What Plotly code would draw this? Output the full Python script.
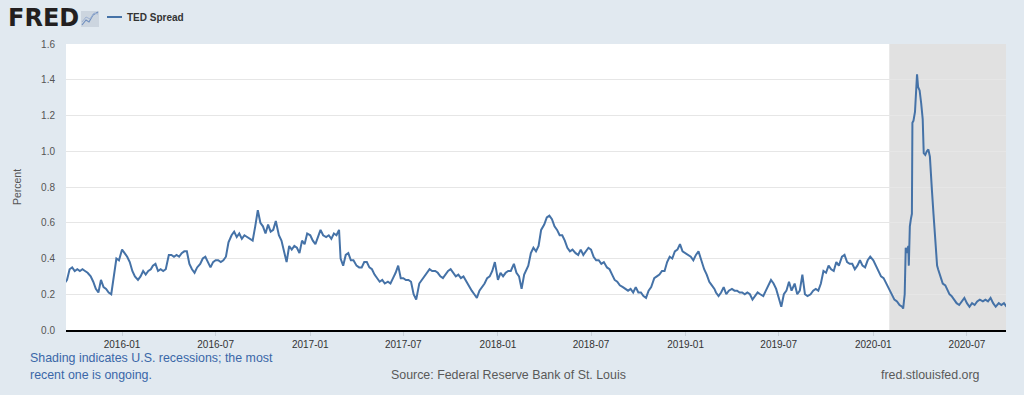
import plotly.graph_objects as go

# ---------------- data (TED Spread, percent) ----------------
# regular grid: six readings per month, on days 1, 6, 11, 16, 21, 26
grid_days = [1, 6, 11, 16, 21, 26]

# Sep 2015 - Dec 2015
ted_2015 = [
    0.27, 0.27, 0.26, 0.28, 0.34, 0.35,   # Sep
    0.33, 0.34, 0.33, 0.34, 0.33, 0.32,   # Oct
    0.30, 0.27, 0.23, 0.21, 0.28, 0.24,   # Nov
    0.23, 0.21, 0.20, 0.29, 0.40, 0.39,   # Dec
]
ted_2016 = [
    0.45, 0.43, 0.41, 0.38, 0.33, 0.30,   # Jan
    0.28, 0.30, 0.33, 0.31, 0.33, 0.34,   # Feb
    0.36, 0.37, 0.33, 0.34, 0.33, 0.34,   # Mar
    0.42, 0.42, 0.41, 0.42, 0.41, 0.43,   # Apr
    0.44, 0.44, 0.37, 0.34, 0.32, 0.35,   # May
    0.37, 0.40, 0.41, 0.38, 0.35, 0.38,   # Jun
    0.39, 0.39, 0.38, 0.39, 0.41, 0.49,   # Jul
    0.53, 0.55, 0.52, 0.54, 0.51, 0.53,   # Aug
    0.52, 0.51, 0.50, 0.58, 0.67, 0.60,   # Sep
    0.58, 0.54, 0.59, 0.55, 0.56, 0.61,   # Oct
    0.53, 0.50, 0.44, 0.38, 0.47, 0.45,   # Nov
    0.47, 0.46, 0.43, 0.50, 0.48, 0.54,   # Dec
]
ted_2017 = [
    0.53, 0.50, 0.48, 0.52, 0.56, 0.53,   # Jan
    0.52, 0.53, 0.51, 0.54, 0.53, 0.56,   # Feb
    0.40, 0.36, 0.42, 0.43, 0.39, 0.39,   # Mar
    0.36, 0.35, 0.35, 0.38, 0.38, 0.35,   # Apr
    0.34, 0.31, 0.29, 0.27, 0.28, 0.26,   # May
    0.27, 0.26, 0.29, 0.32, 0.36, 0.29,   # Jun
    0.29, 0.28, 0.28, 0.27, 0.20, 0.17,   # Jul
    0.26, 0.28, 0.30, 0.32, 0.34, 0.33,   # Aug
    0.33, 0.32, 0.30, 0.29, 0.31, 0.33,   # Sep
    0.34, 0.32, 0.30, 0.31, 0.29, 0.30,   # Oct
    0.27, 0.24, 0.22, 0.20, 0.18, 0.22,   # Nov
    0.24, 0.26, 0.29, 0.30, 0.33, 0.38,   # Dec
]
ted_2018 = [
    0.28, 0.32, 0.30, 0.32, 0.33, 0.33,   # Jan
    0.37, 0.32, 0.30, 0.23, 0.31, 0.34,   # Feb
    0.36, 0.43, 0.46, 0.44, 0.47, 0.56,   # Mar
    0.59, 0.63, 0.64, 0.62, 0.58, 0.56,   # Apr
    0.53, 0.53, 0.50, 0.46, 0.44, 0.45,   # May
    0.43, 0.42, 0.45, 0.42, 0.44, 0.46,   # Jun
    0.45, 0.41, 0.39, 0.39, 0.37, 0.38,   # Jul
    0.35, 0.34, 0.31, 0.28, 0.27, 0.25,   # Aug
    0.24, 0.23, 0.22, 0.23, 0.21, 0.24,   # Sep
    0.21, 0.21, 0.19, 0.18, 0.22, 0.24,   # Oct
    0.29, 0.30, 0.31, 0.33, 0.33, 0.38,   # Nov
    0.41, 0.40, 0.44, 0.45, 0.48, 0.44,   # Dec
]
ted_2019 = [
    0.43, 0.42, 0.41, 0.39, 0.42, 0.44,   # Jan
    0.38, 0.34, 0.31, 0.27, 0.25, 0.23,   # Feb
    0.21, 0.19, 0.21, 0.24, 0.20, 0.22,   # Mar
    0.23, 0.22, 0.22, 0.21, 0.21, 0.20,   # Apr
    0.21, 0.20, 0.17, 0.19, 0.21, 0.20,   # May
    0.19, 0.22, 0.25, 0.28, 0.26, 0.23,   # Jun
    0.18, 0.13, 0.20, 0.22, 0.27, 0.22,   # Jul
    0.26, 0.20, 0.22, 0.31, 0.20, 0.19,   # Aug
    0.20, 0.22, 0.23, 0.22, 0.26, 0.33,   # Sep
    0.32, 0.36, 0.34, 0.33, 0.38, 0.36,   # Oct
    0.41, 0.42, 0.38, 0.37, 0.37, 0.34,   # Nov
    0.36, 0.39, 0.36, 0.35, 0.39, 0.41,   # Dec
]
ted_2020_early = [
    0.39, 0.36, 0.33, 0.30, 0.29, 0.26,   # Jan
    0.23, 0.20, 0.17, 0.16, 0.14, 0.13,   # Feb
]
# March-May 2020 spike, read at finer dates
crisis_dates = [
    "2020-02-28", "2020-03-02", "2020-03-04", "2020-03-06", "2020-03-09",
    "2020-03-10", "2020-03-12", "2020-03-14", "2020-03-16", "2020-03-17",
    "2020-03-19", "2020-03-22", "2020-03-25", "2020-03-26", "2020-03-28",
    "2020-03-31", "2020-04-03", "2020-04-06", "2020-04-08", "2020-04-11",
    "2020-04-14", "2020-04-17", "2020-04-20", "2020-04-22", "2020-04-24",
    "2020-04-27", "2020-04-29", "2020-05-01", "2020-05-04", "2020-05-06",
    "2020-05-11", "2020-05-15", "2020-05-20", "2020-05-25", "2020-05-28",
]
crisis_values = [
    0.12, 0.20, 0.46, 0.43, 0.47,
    0.36, 0.58, 0.62, 0.65, 1.16,
    1.17, 1.22, 1.35, 1.43, 1.36,
    1.34, 1.27, 1.18, 0.99, 0.98,
    1.00, 1.01, 0.97, 0.90, 0.78,
    0.65, 0.57, 0.45, 0.36, 0.34,
    0.30, 0.26, 0.25, 0.22, 0.20,
]
ted_2020_late = [
    0.19, 0.17, 0.15, 0.14, 0.16, 0.18,   # Jun
    0.15, 0.13, 0.15, 0.14, 0.16, 0.17,   # Jul
    0.16, 0.17, 0.16, 0.18, 0.15, 0.13,   # Aug
    0.15, 0.14, 0.15, 0.13,               # Sep
]

x_ticks = ["2016-01-01", "2016-07-01", "2017-01-01", "2017-07-01", "2018-01-01",
           "2018-07-01", "2019-01-01", "2019-07-01", "2020-01-01", "2020-07-01"]
x_tick_labels = ["2016-01", "2016-07", "2017-01", "2017-07", "2018-01",
                 "2018-07", "2019-01", "2019-07", "2020-01", "2020-07"]
recession_start = "2020-02-01"
x_start, x_end = "2015-09-14", "2020-09-15"


def grid_dates(year, month, values):
    out = []
    y, m = year, month
    i = 0
    while i < len(values):
        for d in grid_days:
            if i >= len(values):
                break
            out.append(f"{y:04d}-{m:02d}-{d:02d}")
            i += 1
        m += 1
        if m > 12:
            m, y = 1, y + 1
    return out


dates = (grid_dates(2015, 9, ted_2015) + grid_dates(2016, 1, ted_2016)
         + grid_dates(2017, 1, ted_2017) + grid_dates(2018, 1, ted_2018)
         + grid_dates(2019, 1, ted_2019) + grid_dates(2020, 1, ted_2020_early)
         + crisis_dates + grid_dates(2020, 6, ted_2020_late))
values = (ted_2015 + ted_2016 + ted_2017 + ted_2018 + ted_2019
          + ted_2020_early + crisis_values + ted_2020_late)

# ---------------- figure ----------------
W, H = 1024, 395
L, R, T, B = 66, 18, 44, 65
PW, PH = W - L - R, H - T - B


def px(xp):
    return (xp - L) / PW


def py(yp):
    return (H - B - yp) / PH


blue = "#4572a7"
font = "Liberation Sans, Arial, sans-serif"

fig = go.Figure()
fig.add_trace(go.Scatter(
    x=dates, y=values, mode="lines", connectgaps=False,
    line=dict(color=blue, width=2), name="TED Spread", showlegend=False,
    hoverinfo="x+y",
))

shapes = [
    dict(type="rect", xref="x", yref="paper", x0=recession_start, x1=x_end,
         y0=0, y1=1, fillcolor="#e1e1e1", line=dict(width=0), layer="below"),
    # legend sample line
    dict(type="line", xref="paper", yref="paper", x0=px(107), x1=px(122),
         y0=py(17), y1=py(17), line=dict(color=blue, width=2)),
    # FRED chart icon
    dict(type="rect", xref="paper", yref="paper", x0=px(81), x1=px(99),
         y0=py(27), y1=py(11), fillcolor="#ccd5df", line=dict(width=0)),
    dict(type="path", xref="paper", yref="paper",
         path=(f"M {px(82)},{py(25)} L {px(86)},{py(20)} L {px(89)},{py(22)} "
               f"L {px(93)},{py(15)} L {px(98)},{py(12)}"),
         line=dict(color="#6f8fbf", width=1.2)),
    dict(type="path", xref="paper", yref="paper",
         path=(f"M {px(82)},{py(22)} L {px(86)},{py(17)} L {px(90)},{py(19)} "
               f"L {px(94)},{py(13)} L {px(98)},{py(14)}"),
         line=dict(color="#9fb3d3", width=1)),
]

note_size = 12.4
annotations = [
    dict(text="<b>FRED</b>", xref="paper", yref="paper", x=px(6), y=py(18),
         xanchor="left", yanchor="middle", showarrow=False,
         font=dict(family="DejaVu Sans, Liberation Sans, sans-serif", size=24,
                   color="#231f20")),
    dict(text="<b>TED Spread</b>", xref="paper", yref="paper", x=px(125), y=py(17),
         xanchor="left", yanchor="middle", showarrow=False,
         font=dict(family=font, size=10, color="#333333")),
    dict(text="Shading indicates U.S. recessions; the most", xref="paper", yref="paper",
         x=px(28), y=py(358), xanchor="left", yanchor="middle", showarrow=False,
         font=dict(family=font, size=note_size, color="#3a67a8")),
    dict(text="recent one is ongoing.", xref="paper", yref="paper",
         x=px(28), y=py(375), xanchor="left", yanchor="middle", showarrow=False,
         font=dict(family=font, size=note_size, color="#3a67a8")),
    dict(text="Source: Federal Reserve Bank of St. Louis", xref="paper", yref="paper",
         x=px(389), y=py(375), xanchor="left", yanchor="middle", showarrow=False,
         font=dict(family=font, size=note_size, color="#595959")),
    dict(text="fred.stlouisfed.org", xref="paper", yref="paper",
         x=px(982), y=py(375), xanchor="right", yanchor="middle", showarrow=False,
         font=dict(family=font, size=note_size, color="#595959")),
]

fig.update_layout(
    width=W, height=H,
    margin=dict(l=L, r=R, t=T, b=B, autoexpand=False),
    paper_bgcolor="#e1e9f0", plot_bgcolor="#ffffff",
    font=dict(family=font, color="#333333"),
    shapes=shapes, annotations=annotations, showlegend=False,
    xaxis=dict(
        type="date", range=[x_start, x_end],
        tickmode="array", tickvals=x_ticks, ticktext=x_tick_labels,
        tickfont=dict(size=10, color="#333333"),
        showgrid=False, zeroline=False,
        showline=True, linecolor="#000000", linewidth=2,
        ticks="outside", ticklen=4, tickcolor="#c8d0d8",
    ),
    yaxis=dict(
        range=[0, 1.6], tick0=0, dtick=0.2, tickformat=".1f",
        tickfont=dict(size=10, color="#555555"),
        showgrid=True, gridcolor="#e6e6e6", gridwidth=1,
        zeroline=False, showline=False,
        ticks="", ticklabelstandoff=10,
        title=dict(text="Percent", standoff=17,
                   font=dict(size=10.5, color="#555555")),
    ),
)

fig.write_html(
    "out.html",
    config={"displayModeBar": False},
    post_script="document.body.style.margin='0';document.body.style.overflow='hidden';"
                "document.body.style.background='#e1e9f0';",
)
